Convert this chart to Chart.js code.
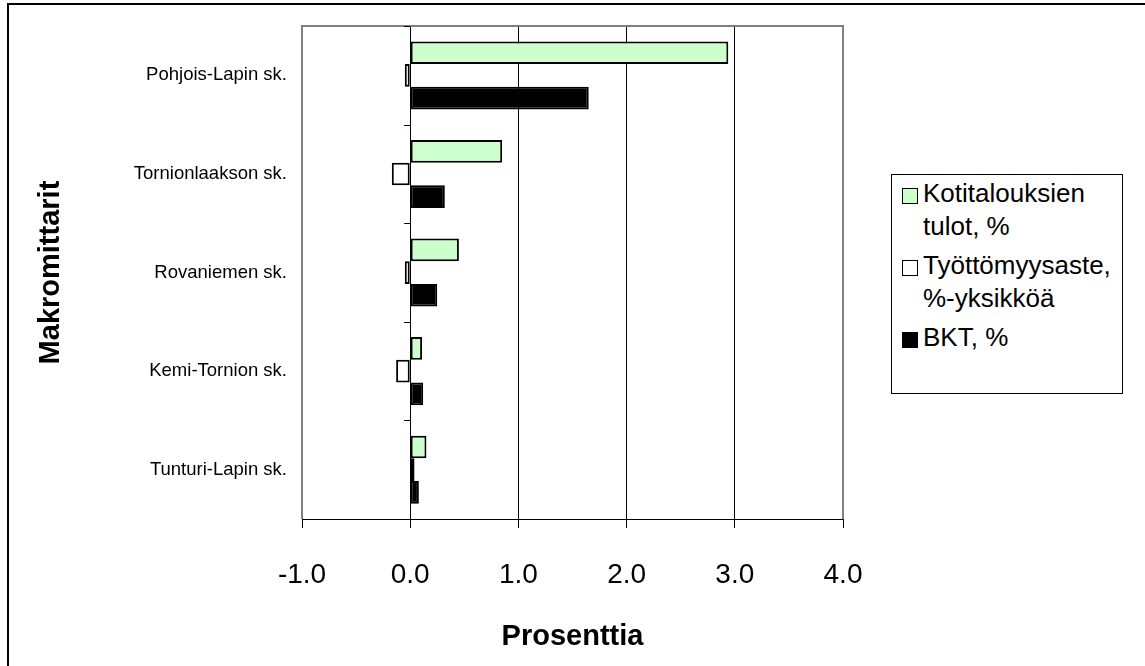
<!DOCTYPE html>
<html>
<head>
<meta charset="utf-8">
<script src="https://cdn.jsdelivr.net/npm/chart.js@4.4.0/dist/chart.umd.min.js"></script>
<style>
  body { margin: 0; background: #fff; }
  #wrap { position: relative; width: 1145px; height: 666px; }
  #legend {
    position: absolute; left: 891px; top: 174px; width: 230px; height: 216px;
    border: 1px solid #000; background: #fff;
    font: 26px 'Liberation Sans', Arial, sans-serif; color: #000;
    padding-top: 2px; box-sizing: content-box;
  }
  .item { display: flex; align-items: flex-start; margin-left: 10px; line-height: 33px; margin-bottom: 6px; }
  .swatch { width: 14px; height: 14px; border: 1px solid #000; margin-top: 11px; margin-right: 5px; flex: none; }
  .label { flex: 1; }
</style>
</head>
<body>
<div id="wrap">
  <canvas id="chart" width="1145" height="666"></canvas>
  <div id="legend"></div>
</div>
<script>
// data
const categories = ['Pohjois-Lapin sk.', 'Tornionlaakson sk.', 'Rovaniemen sk.', 'Kemi-Tornion sk.', 'Tunturi-Lapin sk.'];
const seriesNames = ['Kotitalouksien tulot, %', 'Työttömyysaste, %-yksikköä', 'BKT, %'];
const tulot = [2.94, 0.85, 0.45, 0.11, 0.15];
const tyottomyys = [-0.05, -0.17, -0.05, -0.13, 0.04];
const bkt = [1.65, 0.32, 0.25, 0.12, 0.08];
const seriesColors = ['#ccffcc', '#ffffff', '#000000'];
const xMin = -1;
const xMax = 4;

const FONT = "'Liberation Sans', Arial, sans-serif";
Chart.defaults.color = '#000';
Chart.defaults.font.family = FONT;

// html legend
const legendEl = document.getElementById('legend');
seriesNames.forEach((name, i) => {
  const item = document.createElement('div');
  item.className = 'item';
  const sw = document.createElement('div');
  sw.className = 'swatch';
  sw.style.background = seriesColors[i];
  const lab = document.createElement('div');
  lab.className = 'label';
  lab.textContent = name;
  item.appendChild(sw);
  item.appendChild(lab);
  legendEl.appendChild(item);
});

// outer frame, plot frame and little ticks on the zero line
const frame = {
  id: 'frame',
  beforeDraw(chart) {
    const ctx = chart.ctx;
    ctx.save();
    ctx.fillStyle = '#000';
    ctx.fillRect(7, 3, chart.width - 7, 2);
    ctx.fillRect(7, 3, 2, chart.height - 3);
    ctx.restore();
  },
  afterDatasetsDraw(chart) {
    const { ctx, chartArea: a, scales } = chart;
    ctx.save();
    ctx.strokeStyle = '#808080';
    ctx.lineWidth = 2;
    ctx.beginPath();
    ctx.moveTo(a.left, a.bottom);
    ctx.lineTo(a.left, a.top);
    ctx.lineTo(a.right, a.top);
    ctx.lineTo(a.right, a.bottom);
    ctx.stroke();

    const x0 = scales.x.getPixelForValue(0);
    const step = (a.bottom - a.top) / categories.length;
    ctx.strokeStyle = '#000';
    ctx.lineWidth = 1;
    for (let i = 0; i <= categories.length; i++) {
      const y = Math.round(a.top + i * step) + 0.5;
      ctx.beginPath();
      ctx.moveTo(x0 - 6, y);
      ctx.lineTo(x0, y);
      ctx.stroke();
    }
    ctx.restore();
  }
};

const datasets = [tulot, tyottomyys, bkt].map((vals, i) => ({
  label: seriesNames[i],
  data: vals,
  backgroundColor: seriesColors[i],
  borderColor: '#000',
  borderWidth: 2,
  borderSkipped: false,
  categoryPercentage: 0.69,
  barPercentage: 1.0
}));

new Chart(document.getElementById('chart'), {
  type: 'bar',
  data: { labels: categories, datasets },
  options: {
    indexAxis: 'y',
    responsive: false,
    animation: false,
    devicePixelRatio: 1,
    layout: { padding: { top: 24, right: 302, left: 0, bottom: 0 } },
    plugins: {
      legend: { display: false },
      tooltip: { enabled: false }
    },
    scales: {
      x: {
        type: 'linear',
        min: xMin,
        max: xMax,
        afterFit(scale) { scale.height = 147; },
        ticks: {
          stepSize: 1,
          padding: 30,
          font: { size: 28 },
          callback: (v) => Number(v).toFixed(1)
        },
        grid: {
          color: (c) => (c.tick && (c.tick.value === xMin || c.tick.value === xMax)) ? '#808080' : '#000',
          tickColor: '#000',
          tickLength: 9,
          lineWidth: 1
        },
        border: { display: true, color: '#000', width: 1 },
        title: {
          display: true,
          text: 'Prosenttia',
          font: { size: 29, weight: 'bold' },
          padding: { top: 0, bottom: 12 }
        }
      },
      y: {
        afterFit(scale) { scale.width = 302; },
        ticks: {
          padding: 15,
          font: { size: 18.5 }
        },
        grid: { display: false, drawTicks: false },
        border: { display: false },
        title: {
          display: true,
          text: 'Makromittarit',
          font: { size: 29, weight: 'bold' },
          padding: { top: 34, bottom: 0 }
        }
      }
    }
  },
  plugins: [frame]
});
</script>
</body>
</html>
